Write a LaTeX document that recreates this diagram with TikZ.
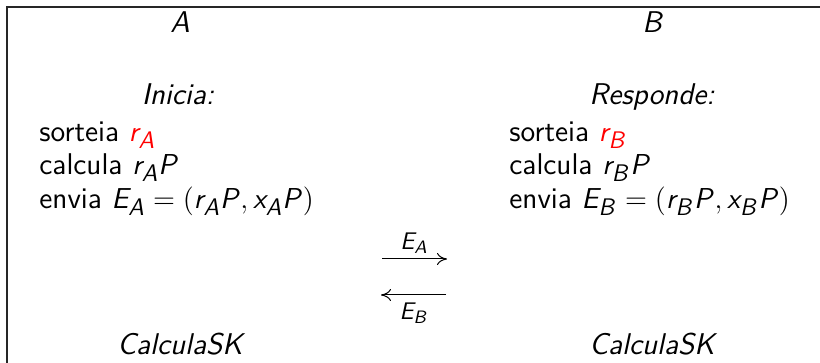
\documentclass[tikz,border=0pt]{standalone}
\usepackage{xcolor}
\usetikzlibrary{arrows.meta}
\DeclareMathAlphabet{\mathsfit}{OT1}{cmss}{m}{sl}
\DeclareMathSizes{15}{15}{11.5}{8.5}
\DeclareMathSizes{12.5}{12.5}{9.5}{7}
\newcommand\mv[1]{\mathsfit{#1}}
\newcommand\msf[1]{\mathsf{#1}}
\newcommand\meq{\mathrel{\mathsf{=}}}
\begin{document}
\begin{tikzpicture}[x=0.5pt,y=-0.5pt,
  txt/.style={font=\sffamily\fontsize{15}{18}\selectfont, inner sep=0pt},
  ttl/.style={txt, font=\sffamily\itshape\fontsize{15}{18}\selectfont, anchor=base},
  lbl/.style={font=\sffamily\fontsize{12.5}{14}\selectfont, inner sep=0pt},
  msg/.style={-{Computer Modern Rightarrow[length=5pt,width=6pt]}, line width=0.5pt}]
\useasboundingbox (0,0) rectangle (820,363);
\draw[line width=0.6pt, black!85] (7,370) -- (7,7) -- (821,7);
% headers
\node[ttl] (A) at (180,33) {A};
\node[ttl] (B) at (652,33) {B};
\node[ttl] (ini) at (178,105) {Inicia:};
\node[ttl] (resp) at (652,105) {Responde:};
% left column
\node[txt, anchor=base west] (sA) at (39,142) {sorteia \textcolor{red}{$\mv{r}_{\mv{A}}$}};
\node[txt, anchor=base west] (cA) at (39,175) {calcula $\mv{r}_{\mv{A}}\mv{P}$};
\node[txt, anchor=base west] (eA) at (39,209) {envia $\mv{E}_{\mv{A}}\meq\msf{(}\mv{r}_{\mv{A}}\mv{P},\mv{x}_{\mv{A}}\mv{P}\msf{)}$};
% right column
\node[txt, anchor=base west] (sB) at (509,142) {sorteia \textcolor{red}{$\mv{r}_{\mv{B}}$}};
\node[txt, anchor=base west] (cB) at (509,175) {calcula $\mv{r}_{\mv{B}}\mv{P}$};
\node[txt, anchor=base west] (eB) at (509,209) {envia $\mv{E}_{\mv{B}}\meq\msf{(}\mv{r}_{\mv{B}}\mv{P},\mv{x}_{\mv{B}}\mv{P}\msf{)}$};
% messages
\coordinate (m1s) at (382,259);
\coordinate (m1e) at (447,259);
\coordinate (m2s) at (446,295);
\coordinate (m2e) at (381,295);
\draw[msg] (m1s) -- (m1e);
\draw[msg] (m2s) -- (m2e);
\node[lbl] (lEA) at (414,243) {$\mv{E}_{\mv{A}}$};
\node[lbl] (lEB) at (414,313) {$\mv{E}_{\mv{B}}$};
% final
\node[ttl] (skA) at (180,355) {CalculaSK};
\node[ttl] (skB) at (652,355) {CalculaSK};
\end{tikzpicture}
\end{document}
